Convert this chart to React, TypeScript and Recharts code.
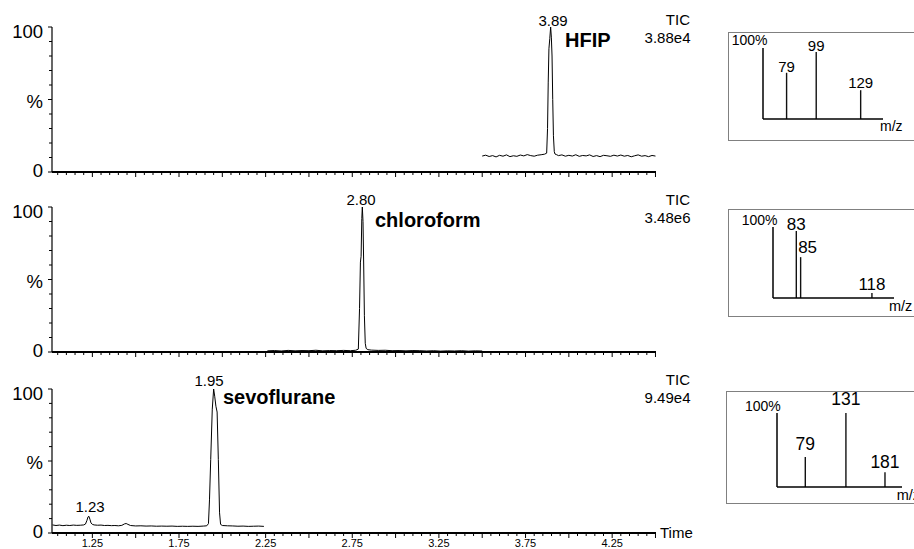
import React from 'react';
import { LineChart, Line, XAxis, YAxis, ComposedChart, Bar, LabelList, ReferenceLine } from 'recharts';

const FONT = '"Liberation Sans", Arial, sans-serif';

// chromatogram traces (time in min, intensity in %)
const hfipTime = [
  3.5, 3.52, 3.54, 3.56, 3.58, 3.6, 3.62, 3.64, 3.66, 3.68, 3.7, 3.72, 3.74, 3.76, 3.78, 3.8, 3.82, 3.84, 3.86,
  3.872, 3.877, 3.881, 3.885, 3.89, 3.895, 3.899, 3.903, 3.907, 3.911, 3.916, 3.92, 3.93, 3.94, 3.96, 3.98, 4.0,
  4.02, 4.04, 4.06, 4.08, 4.1, 4.12, 4.14, 4.16, 4.18, 4.2, 4.22, 4.24, 4.26, 4.28, 4.3, 4.32, 4.34, 4.36, 4.38,
  4.4, 4.42, 4.44, 4.46, 4.48, 4.5,
];
const hfipInt = [
  11.0, 11.6, 10.7, 11.3, 10.4, 11.5, 10.9, 11.8, 10.6, 11.2, 10.8, 11.7, 11.1, 12.0, 11.3, 10.9, 11.6, 11.9, 12.3,
  13, 30, 62, 85, 92, 100, 93, 80, 50, 25, 14, 12.4, 11.9, 11.3, 11.8, 10.9, 11.5,
  11.0, 11.9, 10.8, 11.4, 11.1, 11.8, 10.7, 11.3, 10.6, 11.5, 11.2, 10.8, 11.6, 11.0, 11.7, 10.9, 11.4, 10.5, 11.2,
  11.8, 10.9, 11.3, 10.6, 11.4, 11.0,
];

const chloroTime = [
  2.26, 2.3, 2.34, 2.38, 2.42, 2.46, 2.5, 2.54, 2.58, 2.62, 2.66, 2.7, 2.74, 2.77, 2.785, 2.792, 2.797, 2.801,
  2.805, 2.808, 2.812, 2.816, 2.82, 2.825, 2.83, 2.84, 2.86, 2.9, 2.94, 2.98, 3.02, 3.06, 3.1, 3.14, 3.18, 3.22,
  3.26, 3.3, 3.34, 3.38, 3.42, 3.46, 3.5,
];
const chloroInt = [
  0.8, 1.0, 0.7, 1.1, 0.8, 1.0, 0.9, 1.2, 0.8, 1.0, 0.9, 1.1, 0.9, 1.2, 2, 30, 62, 66,
  92, 100, 90, 60, 25, 6, 2.5, 1.6, 1.3, 1.1, 1.2, 0.9, 1.0, 0.8, 1.0, 0.9, 0.7, 0.9,
  0.6, 0.8, 0.7, 0.9, 0.6, 0.8, 0.7,
];

const sevoTime = [
  1.02, 1.04, 1.06, 1.08, 1.1, 1.12, 1.14, 1.16, 1.18, 1.2, 1.21, 1.218, 1.225, 1.23, 1.236, 1.242, 1.25, 1.26,
  1.28, 1.3, 1.32, 1.34, 1.36, 1.38, 1.4, 1.42, 1.435, 1.445, 1.455, 1.47, 1.5, 1.53, 1.56, 1.59, 1.62, 1.65,
  1.68, 1.71, 1.74, 1.77, 1.8, 1.83, 1.86, 1.89, 1.91, 1.92, 1.926, 1.933, 1.942, 1.95, 1.956, 1.963, 1.97,
  1.977, 1.984, 1.99, 2.0, 2.03, 2.06, 2.09, 2.12, 2.15, 2.18, 2.21, 2.24,
];
const sevoInt = [
  5.6, 5.2, 5.5, 5.1, 5.4, 5.2, 5.5, 5.3, 5.4, 5.6, 6.2, 8.5, 11.2, 11.6, 9.5, 7.0, 6.0, 5.6,
  5.4, 5.5, 5.2, 5.3, 5.1, 5.2, 5.0, 5.3, 6.3, 6.6, 6.0, 5.2, 4.9, 5.0, 4.8, 4.9, 4.7, 4.8,
  4.7, 4.8, 4.6, 4.7, 4.6, 4.7, 4.6, 4.8, 5.0, 6.5, 23, 51, 86, 100, 95, 88, 84,
  51, 14, 6.0, 5.2, 5.0, 4.9, 4.7, 4.8, 4.6, 4.7, 4.8, 4.6,
];

const xTickLabels = ['1.25', '1.75', '2.25', '2.75', '3.25', '3.75', '4.25'];
const yTicks = [0, 10, 20, 30, 40, 50, 60, 70, 80, 90, 100];
const yTickLabels: Record<number, string> = { 0: '0', 50: '%', 100: '100' };

// mass spectra insets
const ms1Mz = [79, 99, 129];
const ms1Ab = [69, 100, 43];
const ms1Labels = ['79', '99', '129'];

const ms2Mz = [83, 85, 118];
const ms2Ab = [100, 61, 7.5];
const ms2Labels = ['83', '85', '118'];

const ms3Mz = [79, 131, 181];
const ms3Ab = [40.5, 100, 20];
const ms3Labels = ['79', '131', '181'];

// minor ticks every 0.05 min on the time axis
const xTicks: number[] = [];
for (let i = 21; i <= 90; i++) xTicks.push(Math.round(i * 5) / 100);

const XTick = (props: any) => {
  const { x, y, payload, showLabels } = props;
  const v = payload.value;
  const major = Math.abs(v * 4 - Math.round(v * 4)) < 1e-6;
  const lbl = v.toFixed(2);
  return (
    <g>
      <line x1={x} y1={y} x2={x} y2={y + (major ? 5 : 3)} stroke="#000" strokeWidth={1} />
      {showLabels && xTickLabels.includes(lbl) && (
        <text x={x} y={y + 13.5} textAnchor="middle" fontSize={11} fontFamily={FONT} fill="#000">
          {lbl}
        </text>
      )}
    </g>
  );
};

const yLabelDy: Record<number, number> = { 0: 4.9, 50: 8.2, 100: 11.4 };

const YTick = (props: any) => {
  const { x, y, payload } = props;
  const v = payload.value;
  const major = v % 50 === 0;
  return (
    <g>
      <line x1={x - (major ? 4 : 3)} y1={y} x2={x} y2={y} stroke="#000" strokeWidth={1} />
      {yTickLabels[v] && (
        <text x={x - 9} y={y + yLabelDy[v]} textAnchor="end" fontSize={18.5} fontFamily={FONT} fill="#000">
          {yTickLabels[v]}
        </text>
      )}
    </g>
  );
};

function Chromatogram({ time, vals, top, bottom, showLabels }: any) {
  const data = time.map((t: number, i: number) => ({ t, v: vals[i] }));
  const h = bottom - top;
  return (
    <div style={{ position: 'absolute', left: 0, top: top - 20 }}>
      <LineChart width={914} height={h + 50} data={data} margin={{ top: 20, right: 258, bottom: 0, left: 0 }}>
        <XAxis
          type="number"
          dataKey="t"
          domain={[1.017, 4.503]}
          ticks={xTicks}
          interval={0}
          tickSize={0}
          tickMargin={0}
          tickLine={false}
          height={30}
          allowDataOverflow
          axisLine={{ stroke: '#000', strokeWidth: 2 }}
          tick={(p: any) => <XTick {...p} showLabels={showLabels} />}
        />
        <YAxis
          type="number"
          domain={[0, 100]}
          ticks={yTicks}
          interval={0}
          width={52}
          tickSize={0}
          tickMargin={0}
          tickLine={false}
          allowDataOverflow
          axisLine={{ stroke: '#000', strokeWidth: 1.2 }}
          tick={(p: any) => <YTick {...p} />}
        />
        <Line type="linear" dataKey="v" stroke="#000" strokeWidth={1} dot={false} isAnimationActive={false} />
      </LineChart>
    </div>
  );
}

function Spectrum({ mz, ab, labels, domain, yMax, axisX, axisTop, axisBase, axisEnd, fontSize, lift, shift }: any) {
  const data = mz.map((m: number, i: number) => ({ mz: m, ab: ab[i], label: labels[i] }));
  const renderLabel = (p: any) => {
    const { x, y, width, value, index } = p;
    return (
      <text
        x={x + width / 2 + (shift[index] || 0)}
        y={y - lift[index]}
        textAnchor="middle"
        fontSize={fontSize}
        fontFamily={FONT}
        fill="#000"
      >
        {value}
      </text>
    );
  };
  return (
    <div style={{ position: 'absolute', left: axisX - 6, top: axisTop - 30 }}>
      <ComposedChart
        width={axisEnd - axisX + 12}
        height={axisBase - axisTop + 36}
        data={data}
        margin={{ top: 30, right: 6, bottom: 6, left: 6 }}
      >
        <XAxis type="number" dataKey="mz" domain={domain} hide allowDataOverflow />
        <YAxis type="number" domain={[0, yMax]} hide allowDataOverflow />
        <ReferenceLine y={0} stroke="#000" strokeWidth={1.5} ifOverflow="visible" />
        <ReferenceLine x={domain[0]} stroke="#000" strokeWidth={1.5} ifOverflow="visible" />
        <Bar dataKey="ab" fill="#111" barSize={1.4} isAnimationActive={false}>
          <LabelList dataKey="label" content={renderLabel} />
        </Bar>
      </ComposedChart>
    </div>
  );
}

const boxStyle = (left: number, top: number, height: number): React.CSSProperties => ({
  position: 'absolute',
  left,
  top,
  width: 220,
  height,
  border: '1.5px solid #808080',
  boxSizing: 'border-box',
});

export default function App() {
  const t = (x: number, y: number, s: string, size: number, anchor = 'start', bold = false) => (
    <text x={x} y={y} textAnchor={anchor} fontSize={size} fontWeight={bold ? 700 : 400} fontFamily={FONT} fill="#000">
      {s}
    </text>
  );
  return (
    <div
      style={{
        position: 'absolute',
        left: 0,
        top: 0,
        width: 914,
        height: 549,
        overflow: 'hidden',
        background: '#fff',
        fontFamily: FONT,
      }}
    >
      <Chromatogram time={hfipTime} vals={hfipInt} top={27} bottom={172} showLabels={false} />
      <Chromatogram time={chloroTime} vals={chloroInt} top={207} bottom={352} showLabels={false} />
      <Chromatogram time={sevoTime} vals={sevoInt} top={389} bottom={533} showLabels={true} />

      <div style={boxStyle(728, 32, 109)} />
      <div style={boxStyle(728, 209, 108)} />
      <div style={boxStyle(726, 391, 113)} />

      <Spectrum
        mz={ms1Mz} ab={ms1Ab} labels={ms1Labels} domain={[63, 144]} yMax={106}
        axisX={763} axisTop={48} axisBase={119} axisEnd={883} fontSize={15}
        lift={[1, 1, 2]} shift={[0, 0, 0]}
      />
      <Spectrum
        mz={ms2Mz} ab={ms2Ab} labels={ms2Labels} domain={[72, 128]} yMax={106}
        axisX={773} axisTop={227} axisBase={298} axisEnd={894} fontSize={17}
        lift={[1, 3.7, 3]} shift={[0, 7, 0]}
      />
      <Spectrum
        mz={ms3Mz} ab={ms3Ab} labels={ms3Labels} domain={[43, 203]} yMax={100}
        axisX={777} axisTop={413} axisBase={487} axisEnd={902} fontSize={17.5}
        lift={[7, 8, 4.3]} shift={[0, 0, 0]}
      />

      <svg width={914} height={549} style={{ position: 'absolute', left: 0, top: 0, pointerEvents: 'none' }}>
        {t(553, 26, '3.89', 15, 'middle')}
        {t(565, 46.7, 'HFIP', 20, 'start', true)}
        {t(690, 25, 'TIC', 15, 'end')}
        {t(690.5, 43.3, '3.88e4', 15, 'end')}

        {t(361, 205, '2.80', 15, 'middle')}
        {t(375, 226.7, 'chloroform', 20, 'start', true)}
        {t(690, 205, 'TIC', 15, 'end')}
        {t(690.5, 223.3, '3.48e6', 15, 'end')}

        {t(209, 386, '1.95', 15, 'middle')}
        {t(223, 404, 'sevoflurane', 20, 'start', true)}
        {t(90, 512.3, '1.23', 15, 'middle')}
        {t(690, 385, 'TIC', 15, 'end')}
        {t(690.5, 402.7, '9.49e4', 15, 'end')}
        {t(660, 537.5, 'Time', 15)}

        {t(731.7, 45, '100%', 14)}
        {t(880, 131, 'm/z', 14)}
        {t(741.7, 225, '100%', 14)}
        {t(889, 311, 'm/z', 14.5)}
        {t(745, 410.7, '100%', 14)}
        {t(896.7, 500, 'm/z', 14.5)}
      </svg>
    </div>
  );
}
